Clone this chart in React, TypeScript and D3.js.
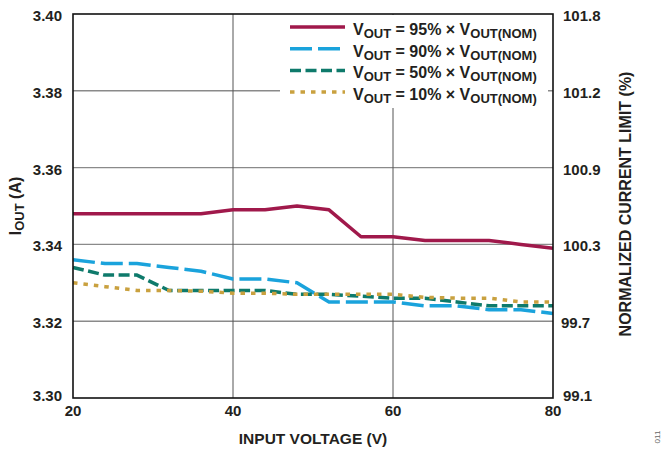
import React from "react";
import * as d3 from "d3";

const voltages = [20, 24, 28, 32, 36, 40, 44, 48, 52, 56, 60, 64, 68, 72, 76, 80];
const iout95 = [3.348, 3.348, 3.348, 3.348, 3.348, 3.349, 3.349, 3.35, 3.349, 3.342, 3.342, 3.341, 3.341, 3.341, 3.34, 3.339];
const iout90 = [3.336, 3.335, 3.335, 3.334, 3.333, 3.331, 3.331, 3.33, 3.325, 3.325, 3.325, 3.324, 3.324, 3.323, 3.323, 3.322];
const iout50 = [3.334, 3.332, 3.332, 3.328, 3.328, 3.328, 3.328, 3.327, 3.327, 3.3265, 3.326, 3.326, 3.325, 3.324, 3.324, 3.324];
const iout10 = [3.33, 3.329, 3.328, 3.328, 3.3278, 3.3273, 3.3273, 3.327, 3.327, 3.327, 3.327, 3.3262, 3.326, 3.326, 3.325, 3.325];

const xTicks = [20, 40, 60, 80];
const yTicks = [3.3, 3.32, 3.34, 3.36, 3.38, 3.4];
const yTickLabels = ["3.30", "3.32", "3.34", "3.36", "3.38", "3.40"];
const rightTickLabels = ["99.1", "99.7", "100.3", "100.9", "101.2", "101.8"];
const legendPercents = ["95%", "90%", "50%", "10%"];

const FONT = "'Liberation Sans', Arial, sans-serif";
const TEXT = "#231F20";

const series = [
  { values: iout95, color: "#A0194B", dash: "none", width: 3.5 },
  { values: iout90, color: "#1AA3DC", dash: "22,6", width: 3.5 },
  { values: iout50, color: "#0E7A6B", dash: "11,4.5", width: 3.5 },
  { values: iout10, color: "#C9A13F", dash: "4.5,6", width: 3.5 },
];

export default function App() {
  const W = 662, H = 451;
  const left = 73, right = 553, top = 14, bottom = 398;
  const x = d3.scaleLinear().domain([20, 80]).range([left, right]);
  const y = d3.scaleLinear().domain([3.3, 3.4]).range([bottom, top]);
  const line = d3
    .line<number>()
    .x((_, i) => x(voltages[i]))
    .y((d) => y(d));

  const legX1 = 290, legX2 = 345, legText = 353, legY0 = 27, legDy = 21.7;
  const legBox = { x: 280, y: top, w: 268, h: 93 };

  return (
    <svg width={W} height={H} style={{ position: "absolute", left: 0, top: 0, background: "#fff" }} fontFamily={FONT}>
      <rect x={0} y={0} width={W} height={H} fill="#fff" />
      {yTicks.slice(1, -1).map((t) => (
        <line key={"h" + t} x1={left} x2={right} y1={y(t)} y2={y(t)} stroke="#8a8a8a" strokeWidth={1.4} />
      ))}
      {xTicks.slice(1, -1).map((t) => (
        <line key={"v" + t} x1={x(t)} x2={x(t)} y1={top} y2={bottom} stroke="#555" strokeWidth={1} />
      ))}
      <rect x={legBox.x} y={legBox.y + 1} width={legBox.w} height={legBox.h} fill="#fff" />
      {series.map((s, i) => (
        <path
          key={"s" + i}
          d={line(s.values) || ""}
          fill="none"
          stroke={s.color}
          strokeWidth={s.width}
          strokeDasharray={s.dash}
          strokeLinejoin="round"
        />
      ))}
      <rect x={left} y={top} width={right - left} height={bottom - top} fill="none" stroke="#111" strokeWidth={1.6} />
      {series.map((s, i) => {
        const ly = legY0 + i * legDy;
        return (
          <g key={"l" + i}>
            <line x1={legX1} x2={legX2} y1={ly} y2={ly} stroke={s.color} strokeWidth={s.width} strokeDasharray={s.dash} />
            <text x={legText} y={ly + 8} fontSize={16} fontWeight="bold" fill={TEXT}>
              <tspan>V</tspan>
              <tspan fontSize={13} dy={3}>OUT</tspan>
              <tspan dy={-3}>{` = ${legendPercents[i]} × V`}</tspan>
              <tspan fontSize={13} dy={3}>OUT(NOM)</tspan>
            </text>
          </g>
        );
      })}
      {yTicks.map((t, i) => (
        <text
          key={"yl" + t}
          x={62}
          y={y(t) + (i === 0 ? -3 : 1.5)}
          textAnchor="end"
          dominantBaseline="central"
          fontSize={15}
          fontWeight="bold"
          fill={TEXT}
        >
          {yTickLabels[i]}
        </text>
      ))}
      {yTicks.map((t, i) => (
        <text
          key={"yr" + t}
          x={i === 1 ? 561 : 563}
          y={y(t) + (i === 0 ? -3 : 1.5)}
          textAnchor="start"
          dominantBaseline="central"
          fontSize={15}
          fontWeight="bold"
          fill={TEXT}
        >
          {rightTickLabels[i]}
        </text>
      ))}
      {xTicks.map((t) => (
        <text key={"xl" + t} x={x(t)} y={416} textAnchor="middle" fontSize={15} fontWeight="bold" fill={TEXT}>
          {t}
        </text>
      ))}
      <text x={(left + right) / 2} y={444} textAnchor="middle" fontSize={15.5} fontWeight="bold" fill={TEXT}>
        INPUT VOLTAGE (V)
      </text>
      <text
        transform={`translate(21,${(top + bottom) / 2}) rotate(-90)`}
        textAnchor="middle"
        fontSize={16}
        fontWeight="bold"
        fill={TEXT}
      >
        <tspan>I</tspan>
        <tspan fontSize={13} dy={3}>OUT</tspan>
        <tspan dy={-3}> (A)</tspan>
      </text>
      <text
        transform={`translate(631,204) rotate(-90)`}
        textAnchor="middle"
        fontSize={16}
        fontWeight="bold"
        fill={TEXT}
      >
        NORMALIZED CURRENT LIMIT (%)
      </text>
      <text transform="translate(660,437) rotate(-90)" textAnchor="middle" fontSize={8} fill="#666">
        011
      </text>
    </svg>
  );
}
